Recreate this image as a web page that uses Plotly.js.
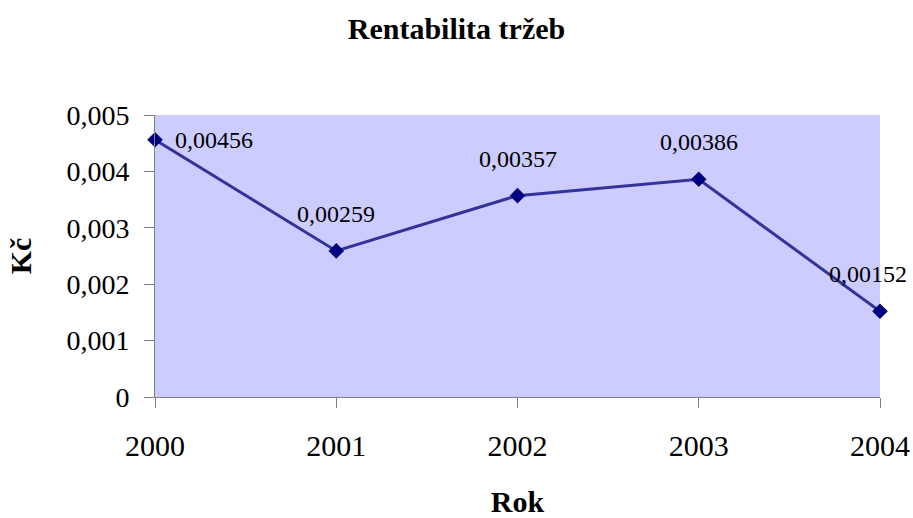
<!DOCTYPE html>
<html>
<head>
<meta charset="utf-8">
<script src="https://cdn.plot.ly/plotly-3.0.1.min.js"></script>
<style>html,body{margin:0;padding:0;background:#fff}#chart{width:913px;height:518px}</style>
</head>
<body>
<div id="chart"></div>
<script>
const years = [2000, 2001, 2002, 2003, 2004];
const values = [0.00456, 0.00259, 0.00357, 0.00386, 0.00152];
const labels = ["0,00456", "0,00259", "0,00357", "0,00386", "0,00152"];
const yTickVals = [0, 0.001, 0.002, 0.003, 0.004, 0.005];
const yTickText = ["0", "0,001", "0,002", "0,003", "0,004", "0,005"];
const xTickText = ["2000", "2001", "2002", "2003", "2004"];

const font = "Liberation Serif";

const trace = {
  x: years, y: values, type: 'scatter', mode: 'lines+markers',
  line: {color: '#333399', width: 3},
  marker: {symbol: 'diamond', size: 12, color: '#000080'},
  cliponaxis: false, hoverinfo: 'skip'
};

const annotations = years.map((yr, i) => {
  const first = i === 0;
  const last = i === years.length - 1;
  return {
    x: yr, y: values[i], xref: 'x', yref: 'y', text: labels[i], showarrow: false,
    font: {family: font, size: 24, color: '#000'},
    xanchor: first ? 'left' : 'center',
    yanchor: first ? 'middle' : 'bottom',
    xshift: first ? 18 : (last ? -12 : 0),
    yshift: first ? 0 : 22
  };
});

const layout = {
  width: 913, height: 518,
  margin: {l: 155, r: 33, t: 115, b: 121, pad: 0},
  paper_bgcolor: '#ffffff', plot_bgcolor: '#ccccff',
  showlegend: false,
  font: {family: font},
  title: {text: 'Rentabilita tržeb', font: {family: font, size: 30, color: '#000', weight: 'bold'},
          x: 0.5, xref: 'container', y: 0.945, yref: 'container', yanchor: 'middle', xanchor: 'center'},
  xaxis: {
    range: [2000, 2004], tickvals: years, ticktext: xTickText,
    showgrid: false, zeroline: false, showline: true, linecolor: '#808080', linewidth: 1,
    ticks: 'outside', ticklen: 10, tickcolor: '#808080', tickwidth: 1,
    ticklabelstandoff: 12, ticklabeloverflow: 'allow',
    tickfont: {family: font, size: 30, color: '#000'},
    title: {text: 'Rok', font: {family: font, size: 30, color: '#000', weight: 'bold'}, standoff: 33}
  },
  yaxis: {
    range: [0, 0.005], tickvals: yTickVals, ticktext: yTickText,
    showgrid: false, zeroline: false, showline: true, linecolor: '#808080', linewidth: 1,
    ticks: 'outside', ticklen: 10, tickcolor: '#808080', tickwidth: 1,
    ticklabelstandoff: 9,
    tickfont: {family: font, size: 28, color: '#000'},
    title: {text: 'Kč', font: {family: font, size: 30, color: '#000', weight: 'bold'}, standoff: 25}
  },
  annotations: annotations
};

Plotly.newPlot('chart', [trace], layout, {displayModeBar: false, staticPlot: true});
</script>
</body>
</html>
